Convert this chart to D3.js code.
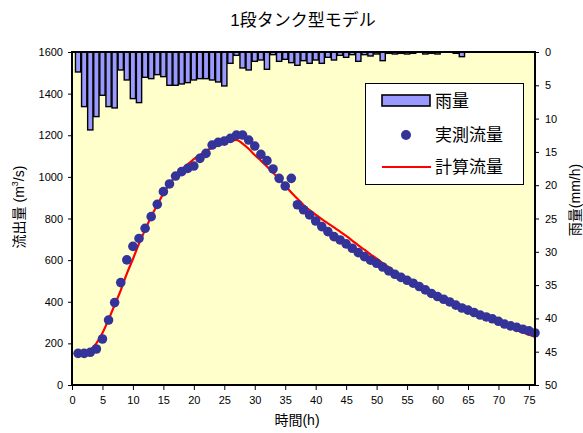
<!DOCTYPE html>
<html>
<head>
<meta charset="utf-8">
<script src="https://cdn.jsdelivr.net/npm/d3@7"></script>
<style>
  html, body { margin: 0; padding: 0; background: #ffffff; }
  svg { display: block; }
  text { font-family: "Liberation Sans", Arial, "Noto Sans CJK JP", sans-serif; fill: #000; }
</style>
</head>
<body>
<svg id="chart" width="583" height="433"></svg>
<script>
// Hours 1..76
const hours = d3.range(1, 77);

// Hourly rainfall (mm/h)
const rainfall = [
  3.0, 8.2, 11.7, 9.7, 6.5, 8.2, 8.4, 2.7, 4.2, 7.0,
  7.6, 3.8, 4.0, 3.4, 3.7, 5.0, 5.0, 4.8, 4.6, 4.2,
  4.0, 4.0, 4.2, 4.5, 5.1, 1.7, 0.5, 2.4, 2.7, 1.4,
  1.2, 2.6, 0.4, 1.4, 1.1, 1.6, 2.0, 1.3, 1.7, 1.2,
  1.7, 0.8, 1.2, 0.5, 0.8, 0.4, 1.4, 0.4, 0.6, 0.3,
  1.3, 0.2, 0.3, 0.2, 0.3, 0.2, 0.0, 0.3, 0.2, 0.3,
  0.0, 0.0, 0.2, 0.7, 0.0, 0.0, 0.0, 0.0, 0.0, 0.0,
  0.0, 0.0, 0.0, 0.0, 0.0, 0.0
];

// Observed discharge (m3/s)
const observed = [
  152, 152, 157, 173, 221, 312, 396, 492, 601, 666,
  704, 753, 809, 868, 929, 966, 1004, 1025, 1041, 1052,
  1089, 1113, 1153, 1166, 1172, 1185, 1201, 1201, 1177, 1148,
  1108, 1078, 1038, 993, 956, 993, 866, 842, 817, 788,
  761, 737, 713, 697, 678, 657, 636, 617, 600, 585,
  567, 548, 532, 517, 503, 489, 473, 457, 440, 425,
  412, 399, 384, 370, 360, 348, 336, 327, 318, 306,
  293, 284, 277, 268, 260, 250
];

// Simulated discharge from the single-tank model (m3/s)
const simulated = [
  155, 158, 170, 200, 250, 315, 385, 455, 535, 605,
  680, 745, 810, 865, 920, 965, 1005, 1035, 1060, 1085,
  1105, 1125, 1140, 1152, 1163, 1172, 1178, 1160, 1135, 1105,
  1078, 1050, 1020, 990, 958, 925, 895, 865, 840, 818,
  797, 777, 757, 737, 716, 694, 671, 650, 628, 607,
  585, 565, 545, 526, 507, 489, 472, 455, 439, 424,
  409, 395, 381, 368, 355, 342, 330, 318, 307, 296,
  285, 274, 263, 252, 242, 232
];

const xTicks = d3.range(0, 80, 5);
const flowTicks = d3.range(0, 1800, 200);
const rainTicks = d3.range(0, 55, 5);
const legendLabels = ["雨量", "実測流量", "計算流量"];

const svg = d3.select("#chart");
const plotL = 72, plotR = 535, plotT = 52, plotB = 385;

const x = d3.scaleLinear().domain([0, 76]).range([plotL, plotR]);
const yFlow = d3.scaleLinear().domain([0, 1600]).range([plotB, plotT]);
const yRain = d3.scaleLinear().domain([0, 50]).range([plotT, plotB]);

// Title
svg.append("text")
  .attr("x", 303).attr("y", 26)
  .attr("text-anchor", "middle")
  .style("font-size", "17px")
  .text("1段タンク型モデル");

// Plot background
svg.append("rect")
  .attr("x", plotL).attr("y", plotT)
  .attr("width", plotR - plotL).attr("height", plotB - plotT)
  .attr("fill", "#FFFFCC");

// Rainfall bars hanging from the top
const barHalf = 0.43;
svg.append("g").selectAll("rect")
  .data(hours.map((h, i) => ({ h, v: rainfall[i] })).filter(d => d.v > 0))
  .join("rect")
  .attr("x", d => x(d.h - barHalf))
  .attr("y", yRain(0))
  .attr("width", d => x(d.h + barHalf) - x(d.h - barHalf))
  .attr("height", d => yRain(d.v) - yRain(0))
  .attr("fill", "#9999FF")
  .attr("stroke", "#000")
  .attr("stroke-width", 1.4);

// Simulated discharge line
const line = d3.line()
  .x((d, i) => x(hours[i]))
  .y(d => yFlow(d))
  .curve(d3.curveMonotoneX);
svg.append("path")
  .datum(simulated)
  .attr("d", line)
  .attr("fill", "none")
  .attr("stroke", "#FF0000")
  .attr("stroke-width", 2.2);

// Observed discharge points
svg.append("g").selectAll("circle")
  .data(observed)
  .join("circle")
  .attr("cx", (d, i) => x(hours[i]))
  .attr("cy", d => yFlow(d))
  .attr("r", 4.8)
  .attr("fill", "#333399");

// Plot frame
svg.append("rect")
  .attr("x", plotL).attr("y", plotT)
  .attr("width", plotR - plotL).attr("height", plotB - plotT)
  .attr("fill", "none")
  .attr("stroke", "#000")
  .attr("stroke-width", 2);

// Axes
function styleAxis(g) {
  g.select(".domain").remove();
  g.selectAll(".tick line").attr("stroke", "#000").attr("stroke-width", 1);
  g.selectAll(".tick text")
    .style("font-size", "11px")
    .style("font-family", "'Liberation Sans', Arial, sans-serif")
    .attr("fill", "#000");
}

const plain = d3.format("d");

svg.append("g")
  .attr("transform", `translate(0,${plotB})`)
  .call(d3.axisBottom(x).tickValues(xTicks).tickFormat(plain).tickSize(5).tickPadding(6))
  .call(styleAxis);

svg.append("g")
  .attr("transform", `translate(${plotL},0)`)
  .call(d3.axisLeft(yFlow).tickValues(flowTicks).tickFormat(plain).tickSize(4).tickPadding(5))
  .call(styleAxis);

svg.append("g")
  .attr("transform", `translate(${plotR},0)`)
  .call(d3.axisRight(yRain).tickValues(rainTicks).tickFormat(plain).tickSize(4).tickPadding(6))
  .call(styleAxis);

// Axis titles
svg.append("text")
  .attr("x", 297).attr("y", 425)
  .attr("text-anchor", "middle")
  .style("font-size", "14px")
  .text("時間(h)");

const yTitle = svg.append("text")
  .attr("transform", "translate(24,207) rotate(-90)")
  .attr("text-anchor", "middle")
  .style("font-size", "14px");
yTitle.append("tspan").text("流出量 (m");
yTitle.append("tspan").attr("dy", -6).style("font-size", "9px").text("3");
yTitle.append("tspan").attr("dy", 6).text("/s)");

svg.append("text")
  .attr("transform", "translate(580,200) rotate(-90)")
  .attr("text-anchor", "middle")
  .style("font-size", "14px")
  .text("雨量(mm/h)");

// Legend
const lg = svg.append("g");
lg.append("rect")
  .attr("x", 365.5).attr("y", 83.5)
  .attr("width", 158).attr("height", 101)
  .attr("fill", "#fff")
  .attr("stroke", "#000")
  .attr("stroke-width", 1);
lg.append("rect")
  .attr("x", 382).attr("y", 95)
  .attr("width", 48).attr("height", 11)
  .attr("fill", "#9999FF")
  .attr("stroke", "#000")
  .attr("stroke-width", 1.6);
lg.append("circle")
  .attr("cx", 406).attr("cy", 135).attr("r", 5)
  .attr("fill", "#333399");
lg.append("line")
  .attr("x1", 382).attr("x2", 431)
  .attr("y1", 167).attr("y2", 167)
  .attr("stroke", "#FF0000")
  .attr("stroke-width", 2.2);
const legendY = [101, 135, 167];
lg.selectAll("text.lab")
  .data(legendLabels)
  .join("text")
  .attr("class", "lab")
  .attr("x", 435)
  .attr("y", (d, i) => legendY[i])
  .attr("dy", "0.36em")
  .style("font-size", "17px")
  .text(d => d);
</script>
</body>
</html>
